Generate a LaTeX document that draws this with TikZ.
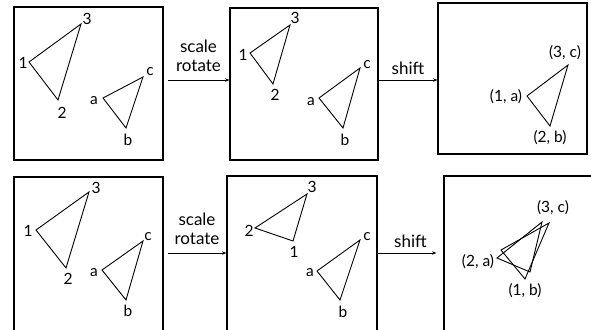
\documentclass[tikz,border=0pt]{standalone}
\usepackage{fontspec}
\setmainfont{Lato}
\usetikzlibrary{arrows.meta}

\begin{document}
\begin{tikzpicture}[
    x=1pt, y=-1pt,
    frame/.style={draw, line width=1.2pt, inner sep=0pt},
    tri/.style={line width=0.9pt, line join=miter},
    lbl/.style={inner sep=0pt, font=\fontsize{15.5}{19}\selectfont},
    op/.style={inner sep=0pt, font=\fontsize{17}{19}\selectfont},
    arrow/.style={-{Stealth[length=4.5pt, width=3.5pt]}, line width=0.7pt}
  ]
    \clip (0,0) rectangle (591,329);

    \node[frame, minimum width=149pt, minimum height=153pt] (fA) at (88.5,83.5) {};
    \node[frame, minimum width=148pt, minimum height=152pt] (fB) at (304,84) {};
    \node[frame, minimum width=149pt, minimum height=151pt] (fC) at (512.5,78.5) {};
    \node[frame, minimum width=149pt, minimum height=155pt] (fD) at (88.5,254.5) {};
    \node[frame, minimum width=150pt, minimum height=156pt] (fE) at (302,254) {};
    \node[frame, minimum width=149pt, minimum height=156pt] (fF) at (518.5,254) {};

    \draw[arrow] ([xshift=4pt, yshift=3.5pt]fA.east) -- ([yshift=4pt]fB.west)
      node[midway, above=8pt, op, align=center] {scale\\rotate};
    \draw[arrow] ([yshift=4pt]fB.east) -- ([yshift=-1.5pt]fC.west)
      node[midway, above=5pt, op] {shift};
    \draw[arrow] ([xshift=4pt, yshift=1.5pt]fD.east) -- ([yshift=1pt]fE.west)
      node[midway, above=8pt, op, align=center] {scale\\rotate};
    \draw[arrow, shorten >=7pt] ([yshift=1pt]fE.east) -- ([yshift=1pt]fF.west)
      node[midway, above=5pt, op] {shift};

    % top row
    \coordinate (A1) at (29,62);   \coordinate (A2) at (58,100);  \coordinate (A3) at (81,24);
    \coordinate (Aa) at (103,98);  \coordinate (Ab) at (126,128); \coordinate (Ac) at (143,77);
    \draw[tri] (A1) -- (A2) -- (A3) -- cycle;
    \draw[tri] (Aa) -- (Ab) -- (Ac) -- cycle;
    \node[lbl] (lA1) at (23,63) {1};
    \node[lbl] (lA2) at (62,113) {2};
    \node[lbl] (lA3) at (87,19) {3};
    \node[lbl] (lAa) at (94,101) {a};
    \node[lbl] (lAb) at (128,140) {b};
    \node[lbl] (lAc) at (150,72) {c};

    \coordinate (B1) at (250,53);  \coordinate (B2) at (273,84);  \coordinate (B3) at (290,25);
    \coordinate (Ba) at (319,98);  \coordinate (Bb) at (343,128); \coordinate (Bc) at (360,68);
    \draw[tri] (B1) -- (B2) -- (B3) -- cycle;
    \draw[tri] (Ba) -- (Bb) -- (Bc) -- cycle;
    \node[lbl] (lB1) at (243,55) {1};
    \node[lbl] (lB2) at (275,95) {2};
    \node[lbl] (lB3) at (295,18) {3};
    \node[lbl] (lBa) at (311,102) {a};
    \node[lbl] (lBb) at (345,140) {b};
    \node[lbl] (lBc) at (367,65) {c};

    \coordinate (C1) at (527,96);  \coordinate (C2) at (550,126); \coordinate (C3) at (568,65);
    \draw[tri] (C1) -- (C2) -- (C3) -- cycle;
    \node[lbl] (lC1) at (506,97) {(1, a)};
    \node[lbl] (lC2) at (550,138) {(2, b)};
    \node[lbl] (lC3) at (565,53) {(3, c)};

    % bottom row
    \coordinate (D1) at (36,230);  \coordinate (D2) at (66,268);  \coordinate (D3) at (89,192);
    \coordinate (Da) at (102,270); \coordinate (Db) at (126,300); \coordinate (Dc) at (143,241);
    \draw[tri] (D1) -- (D2) -- (D3) -- cycle;
    \draw[tri] (Da) -- (Db) -- (Dc) -- cycle;
    \node[lbl] (lD1) at (28,231) {1};
    \node[lbl] (lD2) at (68,279) {2};
    \node[lbl] (lD3) at (96,188) {3};
    \node[lbl] (lDa) at (94,273) {a};
    \node[lbl] (lDb) at (128,311) {b};
    \node[lbl] (lDc) at (148,237) {c};

    \coordinate (E1) at (293,241); \coordinate (E2) at (255,228); \coordinate (E3) at (307,194);
    \coordinate (Ea) at (317,271); \coordinate (Eb) at (340,300); \coordinate (Ec) at (360,240);
    \draw[tri] (E1) -- (E2) -- (E3) -- cycle;
    \draw[tri] (Ea) -- (Eb) -- (Ec) -- cycle;
    \node[lbl] (lE1) at (294,252) {1};
    \node[lbl] (lE2) at (249,231) {2};
    \node[lbl] (lE3) at (312,187) {3};
    \node[lbl] (lEa) at (310,273) {a};
    \node[lbl] (lEb) at (343,312) {b};
    \node[lbl] (lEc) at (367,237) {c};

    \coordinate (F1) at (530,272); \coordinate (F2) at (497,258); \coordinate (F3) at (542,222);
    \coordinate (Fa) at (501,250); \coordinate (Fb) at (525,279); \coordinate (Fc) at (549,223);
    \draw[tri] (F1) -- (F2) -- (F3) -- cycle;
    \draw[tri] (Fa) -- (Fb) -- (Fc) -- cycle;
    \node[lbl] (lF2) at (478,262) {(2, a)};
    \node[lbl] (lF1) at (525,291) {(1, b)};
    \node[lbl] (lF3) at (553,208) {(3, c)};
  \end{tikzpicture}
\end{document}
